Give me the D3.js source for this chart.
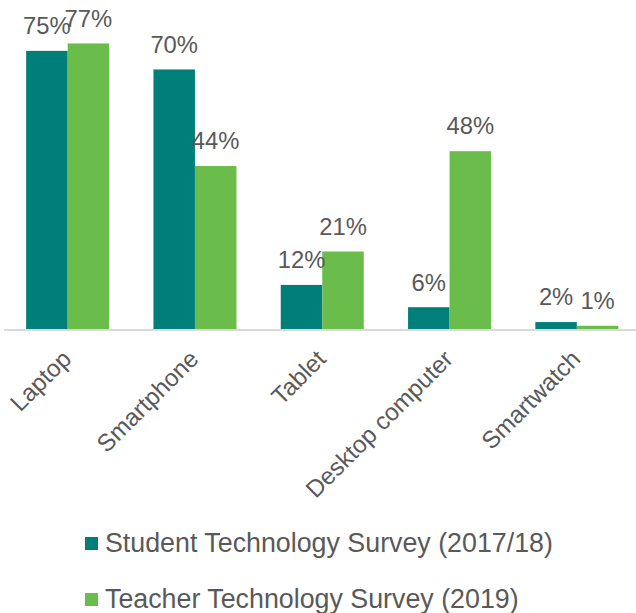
<!DOCTYPE html>
<html>
<head>
<meta charset="utf-8">
<script src="https://cdn.jsdelivr.net/npm/d3@7"></script>
<style>
  html, body { margin: 0; padding: 0; background: #fff; }
  svg { display: block; font-family: "Liberation Sans", Arial, sans-serif; }
</style>
</head>
<body>
<script>
// Device ownership by survey
const categories = ["Laptop", "Smartphone", "Tablet", "Desktop computer", "Smartwatch"];
const seriesNames = ["Student Technology Survey (2017/18)", "Teacher Technology Survey (2019)"];
const studentValues = [75, 70, 12, 6, 2];
const teacherValues = [77, 44, 21, 48, 1];
const seriesColors = ["#007F7A", "#6ABD4A"];

const W = 636, H = 613;
const baseline = 329.5;

const svg = d3.select("body").append("svg")
  .attr("width", W).attr("height", H);

const x = d3.scaleBand()
  .domain(categories)
  .range([4, 640.5])
  .paddingInner(0.348)
  .paddingOuter(0.174);

const x1 = d3.scaleBand()
  .domain([0, 1])
  .range([0, x.bandwidth()]);

const y = d3.scaleLinear()
  .domain([0, 100])
  .range([baseline, baseline - 371.5]);

const rows = categories.map((c, i) => ({
  cat: c,
  vals: [studentValues[i], teacherValues[i]]
}));

// bars
const groups = svg.selectAll("g.cat").data(rows).join("g")
  .attr("class", "cat")
  .attr("transform", d => `translate(${x(d.cat)},0)`);

groups.selectAll("rect").data(d => d.vals.map((v, k) => ({ v, k }))).join("rect")
  .attr("x", d => x1(d.k))
  .attr("width", x1.bandwidth())
  .attr("y", d => y(d.v))
  .attr("height", d => y(0) - y(d.v))
  .attr("fill", d => seriesColors[d.k]);

// value labels
groups.selectAll("text").data(d => d.vals.map((v, k) => ({ v, k }))).join("text")
  .attr("x", d => x1(d.k) + x1.bandwidth() / 2)
  .attr("y", d => y(d.v) - 16.7)
  .attr("text-anchor", "middle")
  .attr("font-size", 23.8)
  .attr("fill", "#595959")
  .text(d => d.v + "%");

// category axis
const axis = svg.append("g")
  .attr("transform", `translate(0,${baseline})`)
  .call(d3.axisBottom(x).tickSize(0).tickPadding(0));
axis.select(".domain").attr("stroke", "#D9D9D9").attr("stroke-width", 2)
  .attr("d", `M4,0.5H${W}`);
axis.selectAll(".tick text")
  .attr("font-size", 24.2)
  .attr("font-family", "Liberation Sans, Arial, sans-serif")
  .attr("fill", "#595959")
  .attr("text-anchor", "end")
  .attr("dy", null)
  .attr("transform", "translate(5,31) rotate(-45)");

// legend
const legend = svg.append("g");
seriesNames.forEach((name, k) => {
  const ly = 552 + k * 56;
  legend.append("rect")
    .attr("x", 85).attr("y", ly - 15)
    .attr("width", 13).attr("height", 13)
    .attr("fill", seriesColors[k]);
  legend.append("text")
    .attr("x", 105).attr("y", ly)
    .attr("font-size", 26.8)
    .attr("fill", "#595959")
    .text(name);
});
</script>
</body>
</html>
